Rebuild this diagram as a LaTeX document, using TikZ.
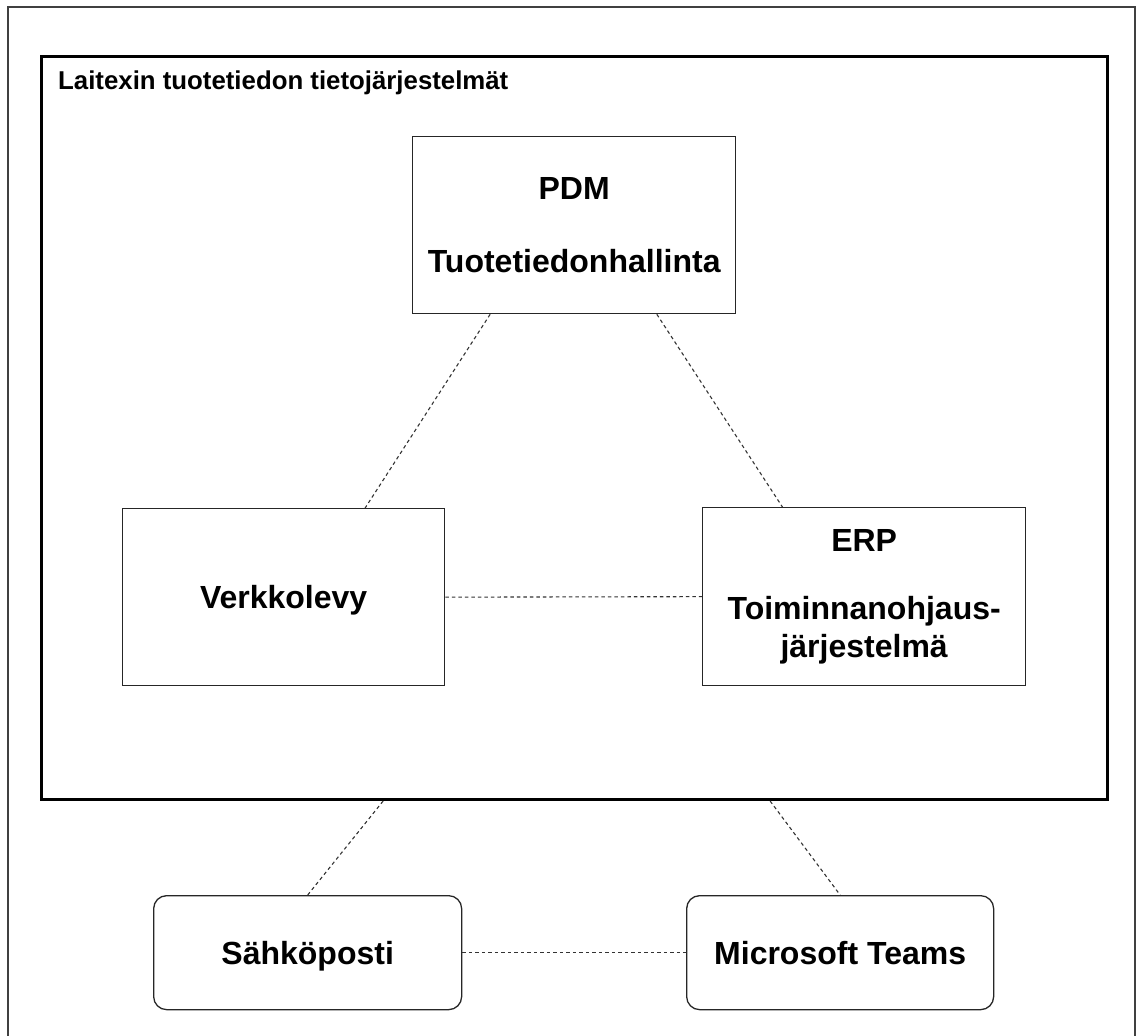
\documentclass[tikz,border=0pt]{standalone}
\usepackage{fontspec}
\setmainfont{Liberation Sans}
\usetikzlibrary{calc}
\tikzset{
  sysbox/.style={draw=black!85, line width=1.3pt, fill=white, anchor=north west,
    inner sep=0pt, align=center, font=\fontsize{32}{38}\selectfont\bfseries},
  onebox/.style={sysbox, text height=23pt, text depth=0pt},
  roundbox/.style={onebox, rounded corners=13pt},
  link/.style={draw=black!80, line width=1.1pt, dash pattern=on 3.5pt off 3pt},
}
\begin{document}
\begin{tikzpicture}[x=1pt,y=-1pt]
\useasboundingbox (0,0) rectangle (1138,1036);
% outer frame
\draw[black!75, line width=1.5pt] (8,1040) -- (8,7) -- (1135,7) -- (1135,1040);
% container
\node[draw=black, line width=3pt, anchor=north west, minimum width=1066pt, minimum height=743pt, inner sep=0pt] (sys) at (40,55) {};
\node[anchor=base west, inner sep=0pt, font=\fontsize{25.8}{30}\selectfont\bfseries] (title) at (58,89) {Laitexin tuotetiedon tietojärjestelmät};
% system boxes
\node[sysbox, minimum width=323pt, minimum height=177pt] (pdm) at (412,136) {PDM\\[35pt]Tuotetiedonhallinta};
\node[onebox, minimum width=322pt, minimum height=177pt] (verk) at (122,508) {Verkkolevy};
\node[sysbox, minimum width=323pt, minimum height=178pt] (erp) at (702,507) {ERP\\[30pt]Toiminnanohjaus-\\järjestelmä};
% external tools
\node[roundbox, minimum width=308pt, minimum height=114pt] (mail) at (153,895) {Sähköposti};
\node[roundbox, minimum width=307pt, minimum height=114pt] (teams) at (686,895) {Microsoft Teams};
% connectors
\draw[link] ($(pdm.south west)!0.241!(pdm.south east)$) -- ($(verk.north west)!0.752!(verk.north east)$);
\draw[link] ($(pdm.south west)!0.755!(pdm.south east)$) -- ($(erp.north west)!0.248!(erp.north east)$);
\draw[link] (verk.east) -- (erp.west);
\draw[link] ($(sys.south west)!0.321!(sys.south east)$) -- (mail.north);
\draw[link] ($(sys.south west)!0.683!(sys.south east)$) -- (teams.north);
\draw[link] (mail.east) -- (teams.west);
\end{tikzpicture}
\end{document}
